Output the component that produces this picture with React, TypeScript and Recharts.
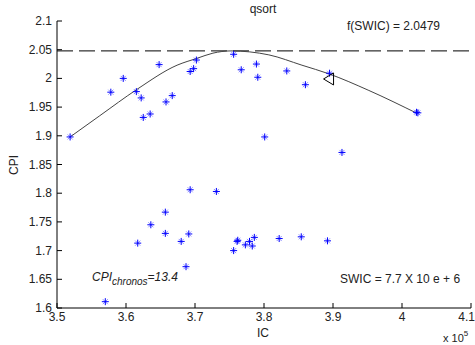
import React from "react";
import { ComposedChart, Line, ReferenceLine, Scatter, XAxis, YAxis } from "recharts";

// measured IC (x 10^5) and CPI per run
const icValues = [
  3.519, 3.578, 3.596, 3.615, 3.622, 3.625, 3.635, 3.648, 3.658, 3.667,
  3.693, 3.698, 3.702, 3.756, 3.767, 3.789, 3.791, 3.833, 3.86, 3.895,
  3.801, 4.023, 4.021, 3.913, 3.693, 3.731, 3.657, 3.636, 3.657, 3.691,
  3.617, 3.68, 3.687, 3.761, 3.762, 3.756, 3.773, 3.779, 3.783, 3.786,
  3.822, 3.854, 3.892, 3.57,
];
const cpiValues = [
  1.898, 1.976, 2.0, 1.977, 1.966, 1.932, 1.938, 2.024, 1.959, 1.97,
  2.012, 2.017, 2.032, 2.042, 2.015, 2.025, 2.002, 2.013, 1.989, 2.009,
  1.898, 1.94, 1.941, 1.871, 1.806, 1.803, 1.767, 1.745, 1.73, 1.729,
  1.713, 1.716, 1.672, 1.716, 1.718, 1.7, 1.71, 1.716, 1.708, 1.723,
  1.721, 1.724, 1.717, 1.611,
];

// fitted curve
const fitX = [3.519, 3.562, 3.616, 3.674, 3.703, 3.726, 3.752, 3.807, 3.855, 3.894, 3.952, 4.022];
const fitY = [1.898, 1.935, 1.981, 2.023, 2.035, 2.044, 2.0479, 2.041, 2.023, 2.008, 1.979, 1.939];

const maxCpi = 2.0479;
const markerPoint = [{ x: 3.895, y: 1.999 }];

const xTicks = [3.5, 3.6, 3.7, 3.8, 3.9, 4, 4.1];
const yTicks = [1.6, 1.65, 1.7, 1.75, 1.8, 1.85, 1.9, 1.95, 2, 2.05, 2.1];

const points = icValues.map((x, i) => ({ x, y: cpiValues[i] }));
const fit = fitX.map((x, i) => ({ x, y: fitY[i] }));

const font = "'Liberation Sans', Arial, sans-serif";
const textColor = "#222";

const fmt = (v: number) => String(Number(v.toFixed(2)));

// ticks point inward, like matlab
const YTick = (props: any) => {
  const { x, y, payload } = props;
  return (
    <g>
      <line x1={x + 5} x2={x + 10} y1={y} y2={y} stroke="#000" />
      <text x={x} y={y} dy={4} textAnchor="end" fontSize={12} fontFamily={font} fill={textColor}>
        {fmt(payload.value)}
      </text>
    </g>
  );
};

const XTick = (props: any) => {
  const { x, y, payload, index } = props;
  // last label would run off the right edge
  const last = index === xTicks.length - 1;
  return (
    <g>
      <line x1={x} x2={x} y1={y - 4} y2={y - 9} stroke="#000" />
      <text
        x={last ? x + 4 : x}
        y={y}
        dy={9}
        textAnchor={last ? "end" : "middle"}
        fontSize={12}
        fontFamily={font}
        fill={textColor}
      >
        {fmt(payload.value)}
      </text>
    </g>
  );
};

const Star = (props: any) => {
  const { cx, cy } = props;
  const r = 3.5;
  const d = 2.5;
  return (
    <g>
      <path
        d={`M${cx - d},${cy - d}L${cx + d},${cy + d}M${cx - d},${cy + d}L${cx + d},${cy - d}`}
        stroke="#0000ff"
        strokeOpacity={0.45}
      />
      <path d={`M${cx - r},${cy}L${cx + r},${cy}M${cx},${cy - r}L${cx},${cy + r}`} stroke="#0000ff" />
    </g>
  );
};

const Arrow = (props: any) => {
  const { cx, cy } = props;
  return (
    <path
      d={`M${cx - 6},${cy}L${cx + 4},${cy - 6}L${cx + 4},${cy + 6}Z`}
      fill="none"
      stroke="#000"
    />
  );
};

export default function App() {
  return (
    <div style={{ position: "absolute", left: 0, top: 0, width: 475, height: 345, background: "#fff" }}>
      <ComposedChart width={475} height={345} margin={{ top: 21, right: 4, bottom: 0, left: 0 }}>
        <XAxis
          type="number"
          dataKey="x"
          domain={[3.5, 4.1]}
          ticks={xTicks}
          height={37}
          tickSize={0}
          tickMargin={4}
          tick={<XTick />}
          stroke="#000"
          interval={0}
          allowDataOverflow
        />
        <YAxis
          type="number"
          dataKey="y"
          domain={[1.6, 2.1]}
          ticks={yTicks}
          width={57}
          tickSize={0}
          tickMargin={5}
          tick={<YTick />}
          stroke="#000"
          interval={0}
          allowDataOverflow
        />
        <ReferenceLine y={maxCpi} stroke="#000" strokeDasharray="16 6" />
        <Line
          data={fit}
          dataKey="y"
          type="monotone"
          stroke="#444"
          strokeWidth={1}
          dot={false}
          isAnimationActive={false}
        />
        <Scatter data={points} shape={<Star />} isAnimationActive={false} />
        <Scatter data={markerPoint} shape={<Arrow />} isAnimationActive={false} />
      </ComposedChart>
      <svg
        width={475}
        height={345}
        style={{ position: "absolute", left: 0, top: 0, pointerEvents: "none" }}
        fontFamily={font}
        fill={textColor}
      >
        <text x={263} y={13} fontSize={12} textAnchor="middle">qsort</text>
        <text x={347} y={30} fontSize={12}>f(SWIC) = 2.0479</text>
        <text x={340} y={283} fontSize={12}>SWIC = 7.7 X 10 e + 6</text>
        <text x={92} y={281} fontSize={12} fontStyle="italic">
          CPI
          <tspan fontSize={10} dy={4}>chronos</tspan>
          <tspan fontSize={12} dy={-4}>=13.4</tspan>
        </text>
        <text x={263} y={337} fontSize={12} textAnchor="middle">IC</text>
        <text x={443} y={342} fontSize={11}>
          x 10
          <tspan fontSize={8} dy={-6}>5</tspan>
        </text>
        <text x={18} y={165} fontSize={12} textAnchor="middle" transform="rotate(-90 18 165)">CPI</text>
      </svg>
    </div>
  );
}
